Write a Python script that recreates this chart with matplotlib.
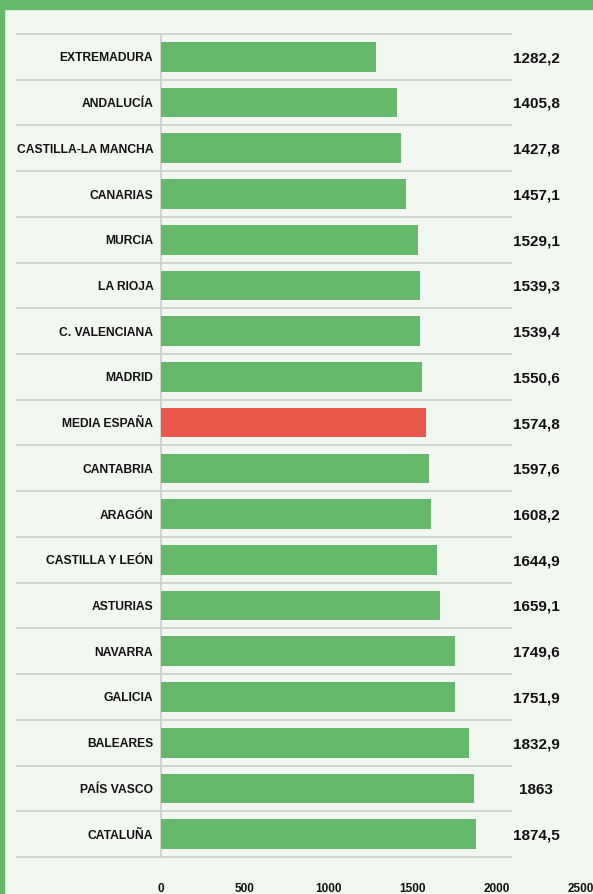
import matplotlib.pyplot as plt
import matplotlib.transforms as mtransforms
from matplotlib.patches import Rectangle

regions = ["EXTREMADURA", "ANDALUCÍA", "CASTILLA-LA MANCHA", "CANARIAS", "MURCIA",
           "LA RIOJA", "C. VALENCIANA", "MADRID", "MEDIA ESPAÑA", "CANTABRIA",
           "ARAGÓN", "CASTILLA Y LEÓN", "ASTURIAS", "NAVARRA", "GALICIA",
           "BALEARES", "PAÍS VASCO", "CATALUÑA"]
values = [1282.2, 1405.8, 1427.8, 1457.1, 1529.1, 1539.3, 1539.4, 1550.6, 1574.8,
          1597.6, 1608.2, 1644.9, 1659.1, 1749.6, 1751.9, 1832.9, 1863, 1874.5]
value_labels = ["1282,2", "1405,8", "1427,8", "1457,1", "1529,1", "1539,3", "1539,4",
                "1550,6", "1574,8", "1597,6", "1608,2", "1644,9", "1659,1", "1749,6",
                "1751,9", "1832,9", "1863", "1874,5"]
x_ticks = [0, 500, 1000, 1500, 2000, 2500]

green = "#66b96b"
red = "#e9584a"
bg = "#f3f7f1"

plt.rcParams['font.family'] = ['Liberation Sans', 'DejaVu Sans']

W, H = 593, 894
fig = plt.figure(figsize=(W / 100, H / 100), dpi=100)
fig.patch.set_facecolor(bg)

ax = fig.add_axes([161 / W, 1 - 857 / H, 420 / W, (857 - 34) / H])
ax.set_facecolor(bg)

y = list(range(len(regions)))
colors = [red if r == "MEDIA ESPAÑA" else green for r in regions]
ax.barh(y, values, height=0.65, color=colors, zorder=3)

ax.set_xlim(0, 2500)
ax.set_ylim(len(regions) - 0.5, -0.5)
ax.set_yticks(y)
ax.set_yticklabels(regions, fontsize=8.7, fontweight='bold', color='#111111',
                   va='center_baseline')
ax.set_xticks(x_ticks)
ax.set_xticklabels([str(t) for t in x_ticks], fontsize=8.5, fontweight='bold', color='#111111')
ax.tick_params(axis='y', length=0, pad=5.5)
ax.tick_params(axis='x', length=0, pad=19)
for s in ['top', 'right', 'bottom']:
    ax.spines[s].set_visible(False)
ax.spines['left'].set_color('#cccccc')
ax.spines['left'].set_linewidth(1.2)

# row separators, running under the labels and values
trans = mtransforms.blended_transform_factory(ax.transAxes, ax.transData)
bounds = [i - 0.5 for i in range(len(regions) + 1)]
ax.hlines(bounds, (16 - 161) / 420, (512 - 161) / 420, transform=trans,
          color='#cccccc', linewidth=1.2, clip_on=False, zorder=1)

for yi, lab in zip(y, value_labels):
    ax.text((536 - 161) / 420, yi + 0.03, lab, transform=trans, ha='center',
            va='center', fontsize=11, fontweight='bold', color='#111111')

# green frame: top band and left edge
fig.patches.append(Rectangle((0, 1 - 9 / H), 1, 9 / H, transform=fig.transFigure,
                             color=green, zorder=0))
fig.patches.append(Rectangle((0, 0), 4 / W, 1, transform=fig.transFigure,
                             color=green, zorder=0))

fig.savefig("out.png", dpi=100, facecolor=bg)
